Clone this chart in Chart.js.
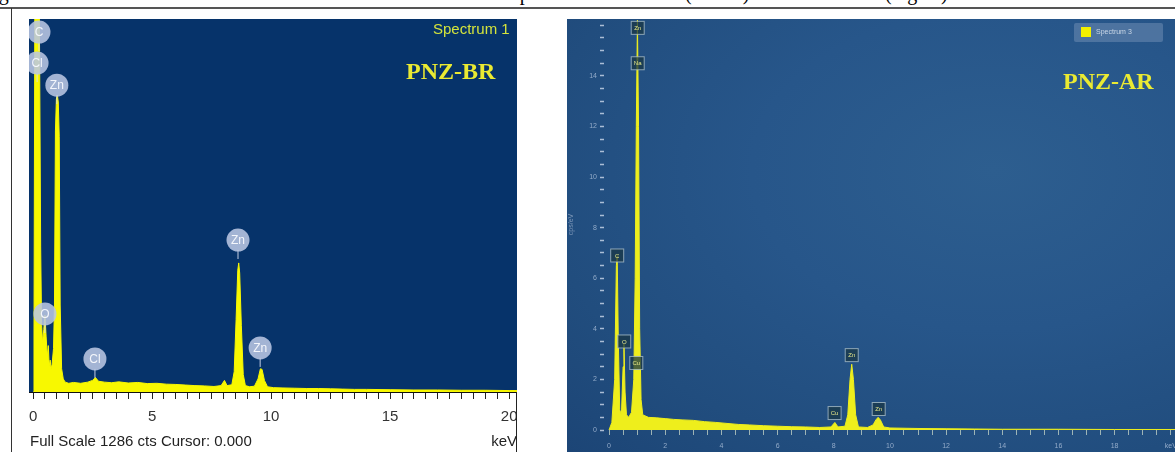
<!DOCTYPE html>
<html>
<head>
<meta charset="utf-8">
<script src="https://cdn.jsdelivr.net/npm/chart.js@4.4.1/dist/chart.umd.min.js"></script>
<style>
  body { margin: 0; width: 1175px; height: 452px; background: #fff; position: relative; overflow: hidden; font-family: Arial, "Liberation Sans", sans-serif; }
  .abs { position: absolute; }
  #caption { left: 0; top: 0; width: 1175px; height: 8px; overflow: hidden; font-family: "Liberation Serif", serif; font-size: 20px; }
  #caption span { position: absolute; top: -17px; line-height: 20px; white-space: nowrap; }
  #rule { left: 0; top: 7px; width: 1175px; height: 2px; background: #555; }
  #leftBorder { left: 11px; top: 8px; width: 1px; height: 444px; background: #333; }
  #leftEdge { left: 516px; top: 392px; width: 1px; height: 60px; background: #222; }
  #rightBg { left: 567px; top: 19px; width: 608px; height: 433px;
    background: radial-gradient(ellipse at 70% 35%, #2d5e8f 0%, #27568a 40%, #214d7e 75%, #1c4576 100%); }
  #fullScale { left: 30px; top: 432px; font-size: 15px; color: #222; }
  #spec1 { left: 433px; top: 20px; font-size: 15px; color: #d4e43c; }
  .pnz { font-family: "Liberation Serif", serif; font-weight: bold; font-size: 24px; color: #eaea32; }
  #legend3 { left: 1074px; top: 23px; width: 89px; height: 19px; background: rgba(110,140,178,0.55); border-radius: 2px; }
  #legend3 i { position: absolute; left: 7px; top: 4px; width: 10px; height: 10px; background: #f2f000; }
  #legend3 span { position: absolute; left: 22px; top: 5px; font-size: 7px; color: #c9d6e6; }
</style>
</head>
<body>
<div id="caption" class="abs">
  <span style="left:-18px">Figure</span>
  <span style="left:512px">spectrum</span>
  <span style="left:685px">(before)</span>
  <span style="left:885px">(regen.)</span>
</div>
<div id="rule" class="abs"></div>
<div id="leftBorder" class="abs"></div>
<div id="rightBg" class="abs"></div>

<canvas id="leftChart" class="abs" width="488" height="433" style="left:29px;top:19px"></canvas>
<canvas id="rightChart" class="abs" width="608" height="433" style="left:567px;top:19px"></canvas>

<div id="leftEdge" class="abs"></div>
<div id="fullScale" class="abs">Full Scale 1286 cts Cursor: 0.000</div>
<div id="spec1" class="abs">Spectrum 1</div>
<div class="abs pnz" style="left:406px;top:58px">PNZ-BR</div>
<div class="abs pnz" style="left:1063px;top:68px">PNZ-AR</div>
<div id="legend3" class="abs"><i></i><span>Spectrum 3</span></div>

<script>
// PNZ-BR spectrum (counts vs keV)
const leftKeV = [0, 0.04, 0.08, 0.12, 0.2, 0.25, 0.28, 0.32, 0.36, 0.4, 0.45, 0.5, 0.55, 0.6, 0.64, 0.68, 0.72, 0.76, 0.8, 0.86,
  0.9, 0.94, 0.98, 1.02, 1.06, 1.1, 1.14, 1.2, 1.27, 1.35, 1.5, 1.7, 2.0, 2.3, 2.5, 2.62, 2.75, 3.0, 3.3, 3.6, 4.0, 4.4, 4.8,
  5.2, 5.6, 6.0, 6.4, 6.8, 7.2, 7.6, 7.9, 8.04, 8.15, 8.35, 8.45, 8.53, 8.6, 8.64, 8.68, 8.75, 8.83, 8.92, 9.1, 9.3, 9.45,
  9.55, 9.62, 9.72, 9.85, 10.1, 10.5, 11, 11.5, 12, 12.5, 13, 13.5, 14, 15, 16, 17, 18, 19, 20, 20.4];
const leftCts = [0, 200, 1500, 1500, 1500, 1500, 1100, 500, 230, 170, 215, 265, 190, 120, 160, 90, 110, 80, 95, 150,
  300, 900, 1010, 1024, 1000, 880, 300, 80, 45, 34, 30, 33, 30, 34, 40, 50, 37, 34, 32, 35, 31, 33, 29,
  30, 27, 26, 24, 22, 21, 19, 22, 40, 22, 25, 70, 250, 420, 445, 410, 230, 60, 22, 18, 20, 45,
  80, 78, 40, 18, 15, 14, 13, 12, 12, 11, 10, 9, 9, 8, 7, 7, 6, 6, 5, 5];
const leftMajorTicks = [0, 5, 10, 15, 20];
const leftLabels = ['C', 'Cl', 'Zn', 'O', 'Cl', 'Zn', 'Zn'];
const leftLabelKeV = [0.25, 0.17, 1.0, 0.5, 2.6, 8.61, 9.54];
const leftLabelCts = [1241, 1134, 1058, 269, 114, 524, 152];

// PNZ-AR spectrum (cps/eV vs keV)
const rightKeV = [0, 0.1, 0.2, 0.26, 0.29, 0.33, 0.38, 0.44, 0.5, 0.53, 0.57, 0.62, 0.7, 0.8, 0.88, 0.93, 0.97, 1.01, 1.05,
  1.09, 1.14, 1.2, 1.4, 1.7, 2.0, 2.3, 2.6, 3.0, 3.4, 3.8, 4.2, 4.6, 5.0, 5.5, 6.0, 6.5, 7.0, 7.5, 7.9, 8.04, 8.15,
  8.4, 8.5, 8.58, 8.64, 8.7, 8.78, 8.88, 9.2, 9.4, 9.5, 9.58, 9.66, 9.78, 10, 11, 12, 13, 14, 16, 18, 20.4];
const rightCps = [0, 0.3, 2.0, 6.5, 6.9, 3.5, 0.8, 0.6, 2.5, 3.4, 1.5, 0.6, 0.5, 0.7, 2.0, 6, 12, 16.2, 12,
  4, 1.2, 0.6, 0.5, 0.48, 0.45, 0.42, 0.4, 0.38, 0.33, 0.3, 0.26, 0.22, 0.2, 0.17, 0.15, 0.13, 0.12, 0.1, 0.12, 0.3, 0.12,
  0.15, 0.6, 2.0, 2.6, 2.0, 0.6, 0.12, 0.1, 0.2, 0.4, 0.5, 0.4, 0.12, 0.08, 0.06, 0.05, 0.04, 0.03, 0.03, 0.02, 0.02];
const rightXTickLabels = ['0', '2', '4', '6', '8', '10', '12', '14', '16', '18', 'keV'];
const rightYTickLabels = ['0', '2', '4', '6', '8', '10', '12', '14'];
const rightLabels = ['Zn', 'Na', 'C', 'O', 'Cu', 'Cu', 'Zn', 'Zn'];
const rightLabelKeV = [1.02, 1.02, 0.29, 0.54, 0.97, 8.03, 8.64, 9.6];
const rightLabelCps = [15.9, 14.5, 6.9, 3.5, 2.65, 0.67, 2.96, 0.83];

const pts = (xs, ys) => xs.map((x, i) => ({ x: x, y: ys[i] }));

// minor ticks every `step` from 0 up to `last`
function tickSet(step, last) {
  const out = [];
  for (let v = 0; v <= last + 1e-9; v += step) out.push({ value: Math.round(v * 100) / 100 });
  return out;
}

// chart area background
const areaBg = {
  id: 'areaBg',
  beforeDraw(chart, args, opts) {
    if (!opts.color) return;
    const a = chart.chartArea, ctx = chart.ctx;
    ctx.save();
    ctx.fillStyle = opts.color;
    ctx.fillRect(a.left, a.top, a.right - a.left, a.bottom - a.top);
    ctx.restore();
  }
};

// element markers
const peakTags = {
  id: 'peakTags',
  afterDatasetsDraw(chart, args, opts) {
    const ctx = chart.ctx, xs = chart.scales.x, ys = chart.scales.y;
    ctx.save();
    opts.names.forEach((name, i) => {
      const x = xs.getPixelForValue(opts.kev[i]);
      const y = ys.getPixelForValue(opts.vals[i]);
      if (opts.style === 'circle') {
        ctx.strokeStyle = 'rgba(215,222,240,0.9)';
        ctx.lineWidth = 1;
        ctx.beginPath(); ctx.moveTo(x, y + 10); ctx.lineTo(x, y + 19); ctx.stroke();
        ctx.fillStyle = 'rgba(185,198,226,0.88)';
        ctx.beginPath(); ctx.arc(x, y, 11.5, 0, Math.PI * 2); ctx.fill();
        ctx.fillStyle = '#f4f6fb';
        ctx.font = '12px Arial';
        ctx.textAlign = 'center'; ctx.textBaseline = 'middle';
        ctx.fillText(name, x, y + 1);
      } else {
        ctx.fillStyle = 'rgba(25,55,70,0.75)';
        ctx.fillRect(x - 6.5, y - 6.5, 13, 13);
        ctx.strokeStyle = 'rgba(170,190,200,0.8)';
        ctx.lineWidth = 1;
        ctx.strokeRect(x - 6.5, y - 6.5, 13, 13);
        ctx.fillStyle = '#e4e68a';
        ctx.font = '6px Arial';
        ctx.textAlign = 'center'; ctx.textBaseline = 'middle';
        ctx.fillText(name, x, y + 0.5);
      }
    });
    ctx.restore();
  }
};

const isMult = (v, m) => Math.abs(v / m - Math.round(v / m)) < 1e-6;

new Chart(document.getElementById('leftChart'), {
  type: 'line',
  data: {
    datasets: [{
      data: pts(leftKeV, leftCts),
      borderColor: '#f8f800',
      backgroundColor: '#f8f800',
      borderWidth: 1,
      pointRadius: 0,
      fill: 'origin'
    }]
  },
  options: {
    responsive: false,
    animation: false,
    parsing: false,
    plugins: {
      legend: { display: false },
      tooltip: { enabled: false },
      areaBg: { color: '#06336a' },
      peakTags: { names: leftLabels, kev: leftLabelKeV, vals: leftLabelCts, style: 'circle' }
    },
    scales: {
      x: {
        type: 'linear', min: -0.17, max: 20.33,
        afterBuildTicks: s => { s.ticks = tickSet(0.5, 20); },
        afterFit: s => { s.height = 60; s.paddingLeft = 0; s.paddingRight = 0; },
        border: { display: true, color: '#111', width: 1 },
        grid: { drawOnChartArea: false, tickLength: 7, color: '#222' },
        ticks: {
          autoSkip: false, maxRotation: 0, minRotation: 0,
          padding: 9, color: '#333', font: { size: 15, family: 'Arial' },
          callback: v => isMult(v, 5) ? String(leftMajorTicks[Math.round(v / 5)]) : ''
        },
        title: { display: true, text: 'keV', align: 'end', color: '#222', font: { size: 15, family: 'Arial' }, padding: { top: 0, bottom: 1 } }
      },
      y: { display: false, min: 0, max: 1286 }
    }
  },
  plugins: [areaBg, peakTags]
});

new Chart(document.getElementById('rightChart'), {
  type: 'line',
  data: {
    datasets: [{
      data: pts(rightKeV, rightCps),
      borderColor: '#eeee1c',
      backgroundColor: '#eeee1c',
      borderWidth: 1,
      pointRadius: 0,
      fill: 'origin'
    }]
  },
  options: {
    responsive: false,
    animation: false,
    parsing: false,
    plugins: {
      legend: { display: false },
      tooltip: { enabled: false },
      peakTags: { names: rightLabels, kev: rightLabelKeV, vals: rightLabelCps, style: 'box' }
    },
    scales: {
      x: {
        type: 'linear', min: -0.18, max: 20.15,
        afterBuildTicks: s => { s.ticks = tickSet(0.5, 20); },
        afterFit: s => { s.height = 22; s.paddingLeft = 0; s.paddingRight = 0; },
        border: { display: false },
        grid: { drawOnChartArea: false, tickLength: 5, color: 'rgba(200,215,200,0.75)' },
        ticks: {
          autoSkip: false, maxRotation: 0,
          padding: 7, color: '#93abc9', font: { size: 7, family: 'Arial' },
          callback: v => isMult(v, 2) ? rightXTickLabels[Math.round(v / 2)] : ''
        }
      },
      y: {
        min: 0, max: 16.25,
        afterBuildTicks: s => { s.ticks = tickSet(0.5, 16); },
        afterFit: s => { s.width = 37; s.paddingTop = 0; s.paddingBottom = 0; },
        border: { display: false },
        grid: { drawOnChartArea: false, tickLength: 4, color: 'rgba(205,218,235,0.8)', tickWidth: 1.5 },
        ticks: {
          autoSkip: false, padding: 3,
          color: '#93abc9', font: { size: 7, family: 'Arial' },
          callback: v => isMult(v, 2) ? (rightYTickLabels[Math.round(v / 2)] || '') : ''
        },
        title: { display: true, text: 'cps/eV', color: '#7f98b8', font: { size: 7, family: 'Arial' }, padding: 0 }
      }
    }
  },
  plugins: [peakTags]
});
</script>
</body>
</html>
